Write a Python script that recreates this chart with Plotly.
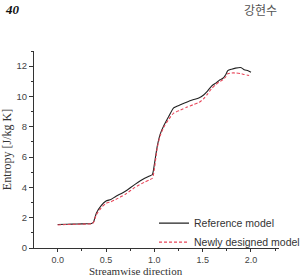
import plotly.graph_objects as go

ref_x = [0.0, 0.1, 0.2, 0.3, 0.35, 0.37, 0.4, 0.45, 0.5, 0.55, 0.6, 0.7, 0.8, 0.9, 0.95, 0.98, 1.0, 1.03, 1.06, 1.1, 1.15, 1.2, 1.27, 1.34, 1.4, 1.46, 1.51, 1.55, 1.59, 1.64, 1.68, 1.71, 1.74, 1.76, 1.8, 1.84, 1.9, 1.93, 1.97, 2.0]
ref_y = [1.55, 1.57, 1.58, 1.6, 1.62, 1.7, 2.3, 2.8, 3.1, 3.2, 3.4, 3.75, 4.2, 4.6, 4.75, 4.85, 5.5, 6.7, 7.5, 8.1, 8.7, 9.25, 9.45, 9.64, 9.78, 9.9, 10.1, 10.35, 10.67, 10.9, 11.1, 11.2, 11.45, 11.7, 11.8, 11.87, 11.9, 11.76, 11.7, 11.6]
new_x = [0.0, 0.1, 0.2, 0.3, 0.35, 0.37, 0.4, 0.45, 0.5, 0.55, 0.6, 0.7, 0.8, 0.9, 0.95, 0.98, 1.0, 1.03, 1.06, 1.1, 1.15, 1.2, 1.27, 1.34, 1.4, 1.46, 1.51, 1.55, 1.59, 1.64, 1.68, 1.71, 1.74, 1.76, 1.8, 1.84, 1.9, 1.93, 1.97, 2.0]
new_y = [1.52, 1.55, 1.57, 1.58, 1.6, 1.68, 2.2, 2.65, 2.95, 3.05, 3.2, 3.55, 4.0, 4.35, 4.5, 4.6, 5.2, 6.6, 7.4, 8.0, 8.5, 8.9, 9.1, 9.3, 9.45, 9.6, 9.85, 10.15, 10.5, 10.8, 11.0, 11.1, 11.3, 11.5, 11.55, 11.55, 11.5, 11.45, 11.4, 11.35]

x_ticks = [0.0, 0.5, 1.0, 1.5, 2.0]
y_ticks = [0, 2, 4, 6, 8, 10, 12]

fig = go.Figure()
fig.add_trace(go.Scatter(x=ref_x, y=ref_y, mode="lines", name="Reference model",
                         line=dict(color="#222222", width=1.1, shape="spline", smoothing=0.6)))
fig.add_trace(go.Scatter(x=new_x, y=new_y, mode="lines", name="Newly designed model",
                         line=dict(color="#e8475a", width=1.1, dash="3px,2px", shape="spline", smoothing=0.6)))

fig.update_layout(
    width=305, height=278,
    margin=dict(l=34, r=0, t=51, b=30),
    paper_bgcolor="white", plot_bgcolor="white",
    font=dict(family="Liberation Sans, Arial", size=9.5, color="#444444"),
    showlegend=True,
    legend=dict(x=0.49, y=0.2, xanchor="left", yanchor="top",
                bgcolor="rgba(0,0,0,0)", borderwidth=0,
                font=dict(family="Liberation Sans, Arial", size=10.5, color="#333333"),
                tracegroupgap=0, itemwidth=30),
    xaxis=dict(range=[-0.245, 2.29], tickvals=x_ticks, tickformat=".1f",
               tickfont=dict(size=9),
               showgrid=False, zeroline=False, showline=True, linecolor="#333333", linewidth=1,
               ticks="outside", ticklen=3, tickcolor="#333333",
               minor=dict(dtick=0.25, ticks="outside", ticklen=2, tickcolor="#333333")),
    yaxis=dict(range=[0, 13], tickvals=y_ticks,
               showgrid=False, zeroline=False, showline=True, linecolor="#333333", linewidth=1,
               ticks="outside", ticklen=4, tickcolor="#333333",
               minor=dict(dtick=1, ticks="outside", ticklen=2, tickcolor="#333333"),
               title=dict(text="Entropy [J/kg K]", standoff=4,
                          font=dict(family="Liberation Serif, Times New Roman", size=12, color="#333333"))),
    annotations=[
        dict(text="Streamwise direction", xref="paper", yref="paper", x=0.415, y=-0.152,
             xanchor="center", yanchor="bottom", showarrow=False, borderpad=0,
             font=dict(family="Liberation Serif, Times New Roman", size=11, color="#333333")),
        dict(text="<b><i>40</i></b>", xref="paper", yref="paper", x=-0.128, y=1.21,
             xanchor="left", yanchor="middle", showarrow=False,
             font=dict(family="Liberation Serif, Times New Roman", size=13, color="#111111")),
        dict(text="강현수", xref="paper", yref="paper", x=1.0, y=1.21,
             xanchor="right", yanchor="middle", showarrow=False,
             font=dict(family="Noto Sans CJK KR", size=12, color="#555555")),
    ],
)

fig.write_html("out.html")
